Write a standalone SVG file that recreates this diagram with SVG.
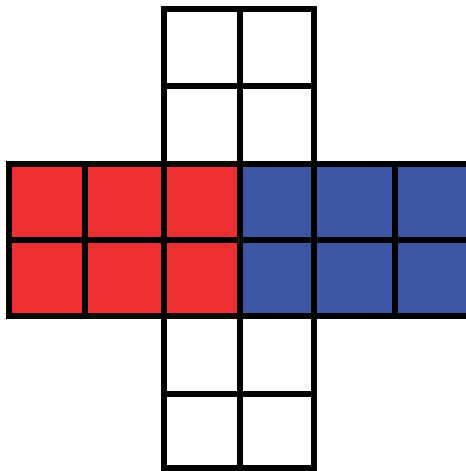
<svg xmlns="http://www.w3.org/2000/svg" width="466" height="471" viewBox="0 0 466 471">
<style>
.c{stroke:#000;stroke-width:6;stroke-linejoin:miter}
.w{fill:#fff}
.r{fill:#EE3035}
.b{fill:#3D57A5}
</style>
<rect width="466" height="471" fill="#fff"/>
<g id="top">
<rect class="c w" x="164" y="9" width="76" height="77"/>
<rect class="c w" x="240" y="9" width="74" height="77"/>
<rect class="c w" x="164" y="86" width="76" height="78"/>
<rect class="c w" x="240" y="86" width="74" height="78"/>
</g>
<g id="red">
<rect class="c r" x="9" y="164" width="76" height="76"/>
<rect class="c r" x="85" y="164" width="79" height="76"/>
<rect class="c r" x="164" y="164" width="76" height="76"/>
<rect class="c r" x="9" y="240" width="76" height="76"/>
<rect class="c r" x="85" y="240" width="79" height="76"/>
<rect class="c r" x="164" y="240" width="76" height="76"/>
</g>
<g id="blue">
<rect class="c b" x="240" y="164" width="74" height="76"/>
<rect class="c b" x="314" y="164" width="81" height="76"/>
<rect class="c b" x="395" y="164" width="77" height="76"/>
<rect class="c b" x="240" y="240" width="74" height="76"/>
<rect class="c b" x="314" y="240" width="81" height="76"/>
<rect class="c b" x="395" y="240" width="77" height="76"/>
</g>
<g id="bottom">
<rect class="c w" x="164" y="316" width="76" height="78"/>
<rect class="c w" x="240" y="316" width="74" height="78"/>
<rect class="c w" x="164" y="394" width="76" height="74"/>
<rect class="c w" x="240" y="394" width="74" height="74"/>
</g>
</svg>
